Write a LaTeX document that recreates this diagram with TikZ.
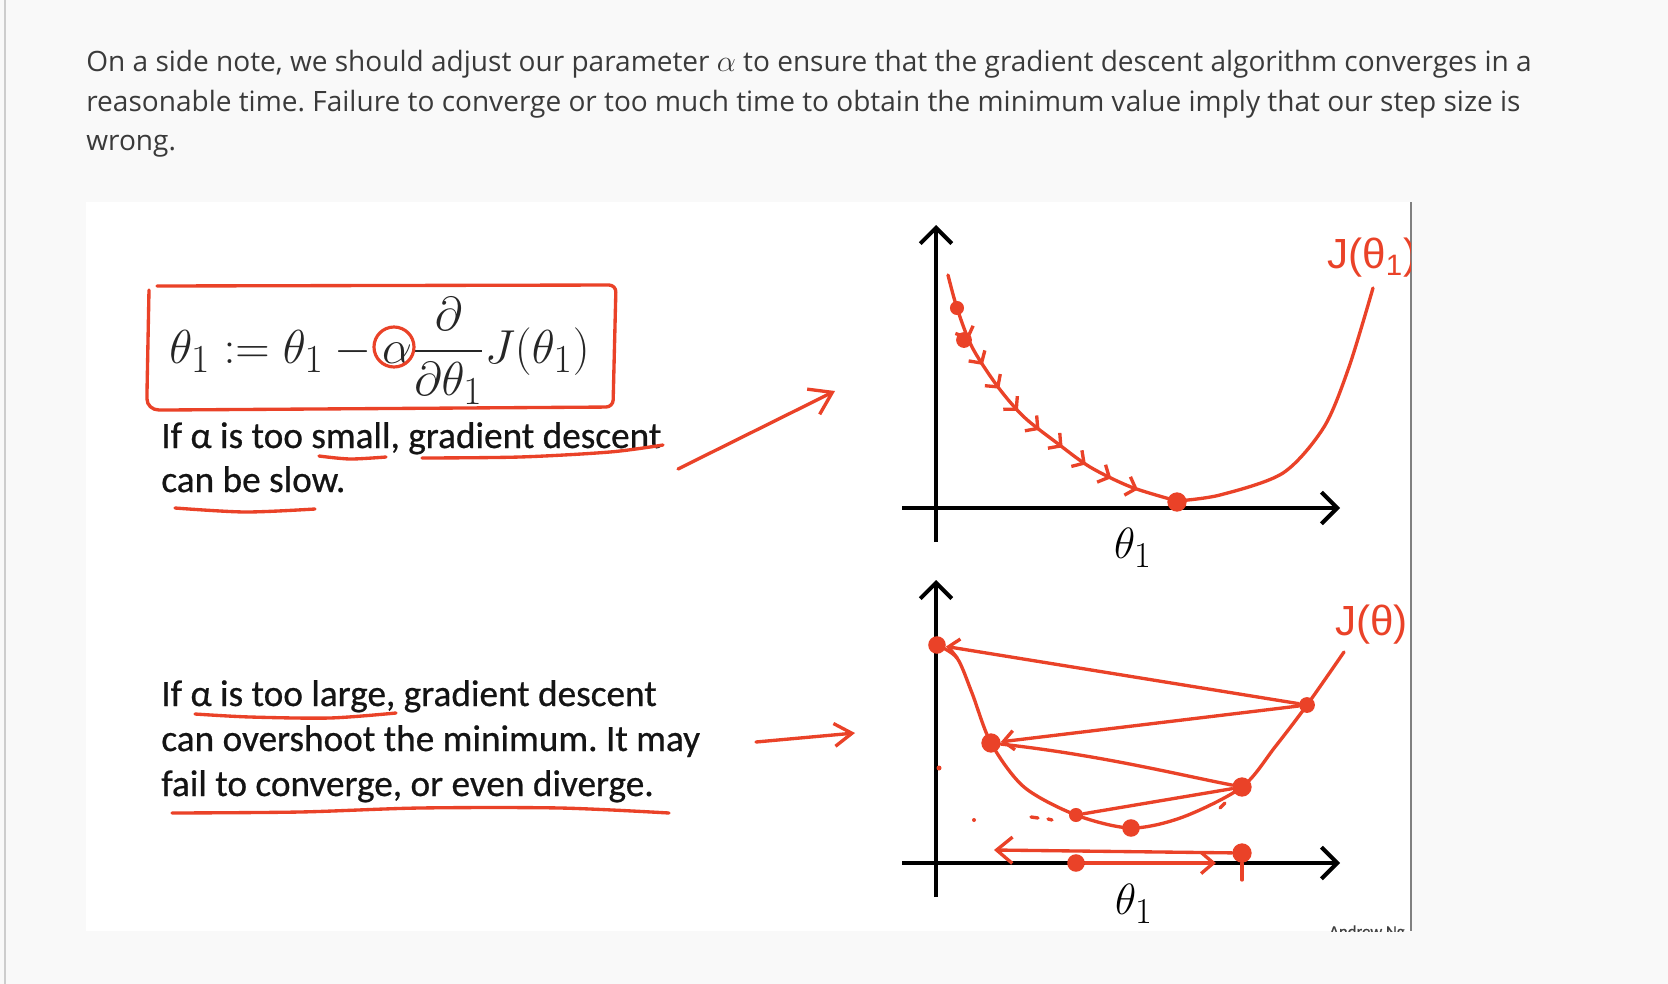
\documentclass[tikz,border=0pt]{standalone}
\usepackage{fontspec}
\setmainfont{Open Sans}
\newfontfamily\slidefont[FakeBold=0.6]{Carlito}
\newfontfamily\inkfont{Liberation Sans}
\usepackage{amsmath}
\usepackage{graphicx}
\usetikzlibrary{arrows.meta, decorations.markings, positioning}

\definecolor{inkred}{RGB}{234,66,40}
\definecolor{pagebg}{RGB}{249,249,249}
\definecolor{notegray}{RGB}{58,58,58}
\definecolor{edgegray}{RGB}{205,205,205}

\newcommand{\notesize}{\fontsize{15.95}{19}\selectfont}
\newcommand{\slidesize}{\fontsize{21.2}{25}\selectfont}
\frenchspacing

\begin{document}
\begin{tikzpicture}[x=0.02cm, y=-0.02cm,
        note/.style={anchor=base west, inner sep=0pt, text=notegray, font=\notesize},
        slide/.style={anchor=base west, inner sep=0pt, text=black!92, font=\slidefont\slidesize},
        ink/.style={color=inkred, line width=1.9pt, line cap=round, line join=round},
        blob/.style={circle, fill=inkred, inner sep=0pt, minimum size=#1},
        blob/.default=10pt,
        ring/.style={circle, draw=inkred, line width=1.8pt, minimum size=0.8cm, inner sep=0pt},
        axis/.style={line width=2.3pt, -{Straight Barb[length=9pt, width=18pt]}},
        handarrow/.style={ink, -{Straight Barb[length=12pt, width=16pt]}},
        tip/.style={ink, -{Straight Barb[length=6pt, width=11pt]}},
        inklabel/.style={text=inkred, font=\inkfont\fontsize{24}{24}\selectfont, inner sep=0pt},
    ]
        % Page and panel
        \fill[pagebg] (0,0) rectangle (1668,984);
        \useasboundingbox (0,0) rectangle (1668,984);
        \draw[edgegray, line width=1.2pt] (5,0) -- (5,984);

        \node[note] (note1) at (86,71) {On a side note, we should adjust our parameter $\alpha$ to ensure that the gradient descent algorithm converges in a};
        \node[note] (note2) at (86,111) {reasonable time. Failure to converge or too much time to obtain the minimum value imply that our step size is};
        \node[note] (note3) at (86,150) {wrong.};

        \fill[white] (86,202) rectangle (1410,931);
        \draw[gray, line width=1.6pt] (1411,202) -- (1411,931);

        % Update rule
        \node[anchor=base west, inner sep=0pt, text=black!85] (rule) at (169,363)
            {\scalebox{1.09}{\fontsize{24.88}{30}\selectfont$\displaystyle \theta_1 := \theta_1 - \alpha\frac{\partial}{\partial\theta_1}J(\theta_1)$}};
        \node[ring] (alphaRing) at (394,347) {};
        \draw[ink, rounded corners=4pt] (149,290) -- (147,392) .. controls (147,405) and (152,410) .. (166,410) -- (613,407) -- (616,285) -- (157,286);

        % Slide text
        \node[slide] (small1) at (161,448) {If α is too small, gradient descent};
        \node[slide] (small2) at (161,492) {can be slow.};
        \node[slide] (large1) at (161,706) {If α is too large, gradient descent};
        \node[slide] (large2) at (161,751) {can overshoot the minimum. It may};
        \node[slide] (large3) at (161,796) {fail to converge, or even diverge.};

        % Underlines
        \draw[ink] plot[smooth] coordinates {(319,456) (350,459) (386,457)};
        \draw[ink] plot[smooth] coordinates {(422,458) (520,457) (610,452) (663,445)};
        \draw[ink] plot[smooth] coordinates {(175,508) (245,512) (315,509)};
        \draw[ink] plot[smooth] coordinates {(195,714) (250,717) (330,718) (396,713)};
        \draw[ink] plot[smooth] coordinates {(172,813) (300,812) (420,808) (560,808) (669,813)};

        % Pointers to the plots
        \coordinate (slowFrom) at (678,469);
        \coordinate (slowTo) at (835,391);
        \coordinate (largeFrom) at (756,742);
        \coordinate (largeTo) at (855,733);
        \draw[handarrow] (slowFrom) -- (slowTo);
        \draw[ink, -{Straight Barb[length=10pt, width=13pt]}] (largeFrom) -- (largeTo);

        % Top plot: small steps
        \draw[axis] (936,542) -- (936,225);
        \draw[axis] (902,508) -- (1340,508);
        \node[font=\fontsize{24.88}{30}\selectfont] (thetaTop) at (1133,548) {$\theta_1$};

        \draw[ink, postaction={decorate}, decoration={markings,
                mark=between positions 0.2 and 0.93 step 0.085 with {\arrow{Straight Barb[length=5pt, width=11pt]}}}]
            plot[smooth] coordinates {(948,275) (957,308) (972,347) (998,387) (1024,417) (1057,443) (1090,467) (1131,487) (1177,501)};
        \draw[ink] plot[smooth] coordinates {(1177,501) (1220,495) (1283,473) (1324,427) (1349,367) (1373,288)};
        \node[blob=8pt] (t0) at (957,308) {};
        \node[blob=9pt] (t1) at (964,340) {};
        \node[blob=11pt] (tmin) at (1177,502) {};

        % Bottom plot: large steps
        \draw[axis] (936,897) -- (936,580);
        \draw[axis] (902,863) -- (1340,863);
        \node[font=\fontsize{24.88}{30}\selectfont] (thetaBot) at (1134,904) {$\theta_1$};

        \draw[ink] plot[smooth] coordinates {(937,645) (957,658) (972,693) (991,743) (1024,787) (1076,815) (1131,828) (1183,817) (1242,787) (1275,747) (1307,705) (1344,652)};
        \node[blob=10pt] (b0) at (937,645) {};
        \node[blob=9pt] (b1) at (1307,705) {};
        \node[blob=11pt] (b2) at (991,743) {};
        \node[blob=11pt] (b3) at (1242,787) {};
        \node[blob=8pt] (b4) at (1076,815) {};
        \node[blob=10pt] (b5) at (1131,828) {};
        \draw[tip, {Straight Barb[length=6pt, width=11pt]}-] (b0) -- (b1);
        \draw[tip] (b1) -- (b2);
        \draw[ink] (b2) .. controls (1100,755) and (1180,775) .. (b3);
        \draw[ink] (b3) -- (b4);

        % Steps along the axis
        \node[blob=10pt] (h0) at (1076,863) {};
        \node[blob=11pt] (h2) at (1242,853) {};
        \coordinate (backTo) at (994,850);
        \coordinate (overTo) at (1216,863);
        \coordinate (tickEnd) at (1242,880);
        \draw[ink, -{Straight Barb[length=9pt, width=15pt]}] (h2) -- (backTo);
        \draw[ink, -{Straight Barb[length=7pt, width=12pt]}] (h0) -- (overTo);
        \draw[ink] (h2) -- (tickEnd);

        % Stray pen marks
        \fill[inkred] (939,768) circle (2.5);
        \fill[inkred] (974,820) circle (2);
        \draw[ink] (1031,817) -- (1038,818);
        \draw[ink] (1048,819) -- (1052,820);
        \draw[ink] (1220,808) -- (1225,803);

        % Labels clipped to the panel
        \begin{scope}
            \clip (86,202) rectangle (1410,931);
            \node[inklabel, anchor=west] (costTop) at (1327,258) {J(θ\textsubscript{1})};
            \node[inklabel, anchor=west] (costBot) at (1335,625) {J(θ)};
            \node[anchor=base east, inner sep=0pt, text=black!75, font=\slidefont\fontsize{9.5}{10}\selectfont] (credit) at (1405,937) {Andrew Ng};
        \end{scope}
    \end{tikzpicture}
\end{document}
